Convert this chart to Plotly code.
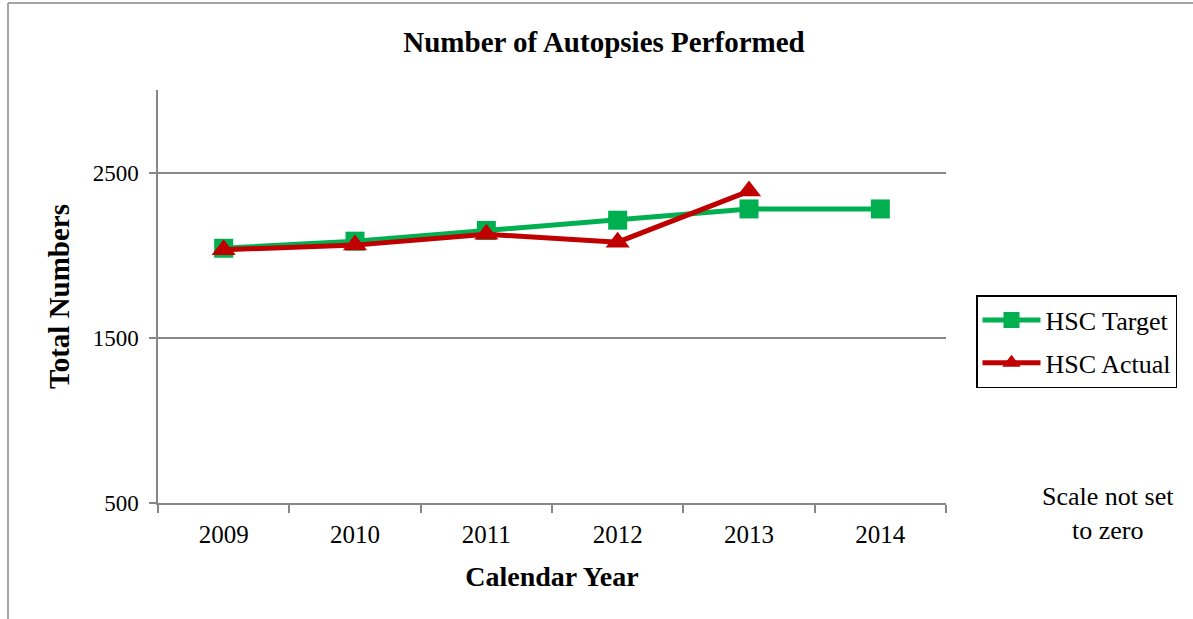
import plotly.graph_objects as go

# Calendar years and autopsy counts
years = ["2009", "2010", "2011", "2012", "2013", "2014"]
target = [2042, 2085, 2150, 2212, 2280, 2280]
actual_years = ["2009", "2010", "2011", "2012", "2013"]
actual = [2033, 2061, 2127, 2079, 2388]
y_ticks = [500, 1500, 2500]

FONT = "Liberation Serif"
GRID = "#878787"

# plot area in pixels
W, H = 1193, 619
L, R, T, B = 158, 946, 90, 503
pw, ph = R - L, B - T


def px_x(x):
    return (x - L) / pw


def px_y(y):
    return (B - y) / ph


fig = go.Figure()
fig.add_trace(go.Scatter(
    x=years, y=target, name="HSC Target", mode="lines+markers", legendgroup="t",
    line=dict(color="#00B050", width=5),
    marker=dict(symbol="square", size=19, color="#00B050"),
))
fig.add_trace(go.Scatter(
    x=actual_years, y=actual, name="HSC Actual", mode="lines+markers", legendgroup="a",
    line=dict(color="#C00000", width=5),
    marker=dict(symbol="triangle-up", size=21, color="#C00000"),
))

fig.update_layout(
    width=W, height=H,
    margin=dict(l=L, r=W - R, t=T, b=H - B),
    paper_bgcolor="white", plot_bgcolor="white",
    font=dict(family=FONT, size=24, color="black"),
    title=dict(text="<b>Number of Autopsies Performed</b>", x=604 / W, xref="container",
               xanchor="center", y=1 - 42 / H, yref="container", yanchor="middle",
               font=dict(family=FONT, size=29, color="black")),
    showlegend=True,
    legend=dict(x=px_x(976), y=px_y(295), xanchor="left", yanchor="top",
                bordercolor="black", borderwidth=1.5, bgcolor="white",
                font=dict(family=FONT, size=26, color="black"),
                itemwidth=58, tracegroupgap=6),
    xaxis=dict(type="category", range=[-0.5, 5.5], tickson="boundaries",
               ticks="outside", ticklen=8, tickcolor=GRID, tickwidth=1.5,
               showline=True, linecolor=GRID, linewidth=1.5, showgrid=False,
               tickfont=dict(family=FONT, size=25), fixedrange=True,
               ticklabelstandoff=8,
               title=dict(text="<b>Calendar Year</b>", standoff=20,
                          font=dict(family=FONT, size=28))),
    yaxis=dict(range=[500, 3000], tickvals=y_ticks, ticks="outside", ticklen=7,
               tickcolor=GRID, tickwidth=1.5, showline=True, linecolor=GRID,
               linewidth=1.5, showgrid=True, gridcolor=GRID, gridwidth=1.5,
               zeroline=False, tickfont=dict(family=FONT, size=23),
               ticklabelstandoff=6,
               title=dict(text="<b>Total Numbers</b>", standoff=15,
                          font=dict(family=FONT, size=29))),
    annotations=[dict(text="Scale not set<br>to zero", x=px_x(1108), y=px_y(513),
                      xref="paper", yref="paper", showarrow=False, align="center",
                      xanchor="center", yanchor="middle",
                      font=dict(family=FONT, size=26, color="black"))],
    shapes=[
        dict(type="line", xref="paper", yref="paper", x0=px_x(8), x1=px_x(1200),
             y0=px_y(3), y1=px_y(3), line=dict(color=GRID, width=1.5)),
        dict(type="line", xref="paper", yref="paper", x0=px_x(8), x1=px_x(8),
             y0=px_y(3), y1=px_y(625), line=dict(color=GRID, width=1.5)),
    ],
)

fig.write_html("out.html")
